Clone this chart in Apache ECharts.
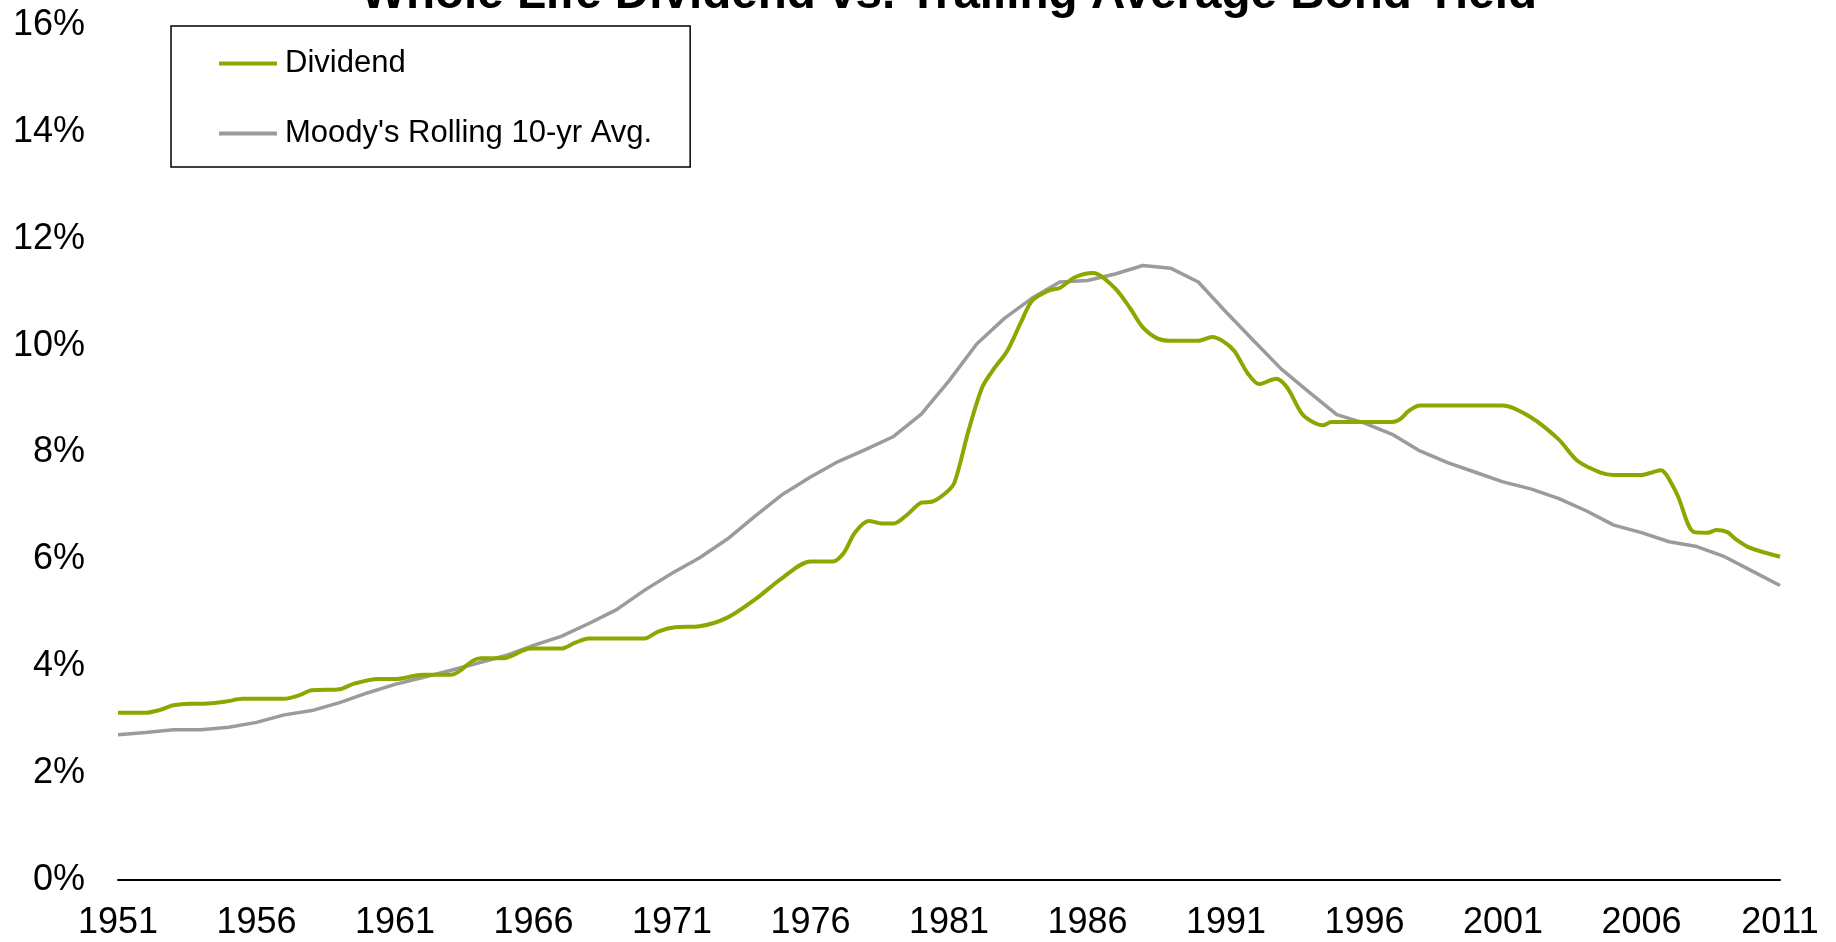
<!DOCTYPE html>
<html>
<head>
<meta charset="utf-8">
<script src="https://cdn.jsdelivr.net/npm/echarts@6/dist/echarts.min.js"></script>
<style>
html,body{margin:0;padding:0;background:#fff;}
#chart{width:1836px;height:942px;}
</style>
</head>
<body>
<div id="chart"></div>
<script>
// ---- data ----
const titleText = 'Whole Life Dividend vs. Trailing Average Bond Yield';
const seriesNames = ['Dividend', "Moody's Rolling 10-yr Avg."];

const divYears = [1951.0,1952.0,1952.5,1953.0,1953.6,1954.1,1954.9,1955.5,1957.0,1957.5,1958.0,1959.0,1959.5,1960.4,1961.0,1962.0,1963.0,1963.3,1963.8,1964.1,1964.9,1965.9,1967.0,1967.5,1968.0,1970.0,1970.5,1971.1,1972.0,1973.0,1974.0,1975.0,1976.0,1976.8,1977.2,1977.6,1978.1,1978.6,1979.0,1979.5,1980.0,1980.4,1980.9,1981.2,1981.7,1982.2,1982.6,1983.1,1983.6,1984.0,1984.6,1985.0,1985.55,1986.2,1987.0,1987.55,1988.0,1988.5,1989.0,1990.0,1990.5,1990.9,1991.3,1991.8,1992.2,1992.8,1993.2,1993.75,1994.2,1994.5,1994.8,1997.0,1997.3,1997.6,1998.0,2001.0,2002.0,2003.0,2003.7,2004.5,2005.0,2006.0,2006.4,2006.7,2006.9,2007.3,2007.9,2008.4,2008.7,2009.1,2009.4,2009.9,2011.0];
const divValues = [3.13,3.13,3.18,3.27,3.30,3.30,3.34,3.39,3.39,3.45,3.55,3.57,3.67,3.76,3.76,3.84,3.84,3.90,4.10,4.15,4.15,4.33,4.33,4.44,4.52,4.52,4.65,4.73,4.75,4.91,5.25,5.66,5.96,5.96,6.12,6.50,6.72,6.67,6.67,6.84,7.06,7.08,7.25,7.44,8.40,9.22,9.55,9.90,10.44,10.84,11.03,11.08,11.28,11.36,11.07,10.69,10.34,10.14,10.09,10.09,10.16,10.08,9.90,9.47,9.28,9.38,9.22,8.72,8.55,8.51,8.57,8.57,8.63,8.78,8.88,8.88,8.66,8.25,7.84,7.63,7.58,7.58,7.63,7.67,7.58,7.20,6.51,6.50,6.55,6.51,6.38,6.22,6.05];

const bondYears = [1951,1952,1953,1954,1955,1956,1957,1958,1959,1960,1961,1962,1963,1964,1965,1966,1967,1968,1969,1970,1971,1972,1973,1974,1975,1976,1977,1978,1979,1980,1981,1982,1983,1984,1985,1986,1987,1988,1989,1990,1991,1992,1993,1994,1995,1996,1997,1998,1999,2000,2001,2002,2003,2004,2005,2006,2007,2008,2009,2010,2011];
const bondValues = [2.72,2.76,2.81,2.81,2.86,2.95,3.09,3.17,3.32,3.50,3.66,3.79,3.92,4.06,4.20,4.39,4.56,4.80,5.06,5.42,5.74,6.03,6.38,6.81,7.22,7.54,7.83,8.06,8.30,8.72,9.34,10.03,10.51,10.89,11.19,11.22,11.34,11.50,11.45,11.19,10.63,10.09,9.56,9.13,8.71,8.55,8.34,8.03,7.81,7.63,7.45,7.32,7.14,6.91,6.64,6.50,6.33,6.24,6.05,5.78,5.51];

const xMin = 1951, xMax = 2011, xStep = 5;
const yMin = 0, yMax = 16, yStep = 2;

// ---- chart ----
const FONT = "'Liberation Sans', Arial, sans-serif";
const chart = echarts.init(document.getElementById('chart'), null, {renderer: 'canvas'});
const divData = divYears.map((y, i) => [y, divValues[i]]);
const bondData = bondYears.map((y, i) => [y, bondValues[i]]);

chart.setOption({
  animation: false,
  backgroundColor: '#ffffff',
  title: {
    text: titleText,
    left: 944,
    textAlign: 'center',
    top: -34,
    textStyle: {fontFamily: FONT, fontWeight: 'bold', fontSize: 47.6, color: '#000'}
  },
  legend: {
    orient: 'vertical',
    left: 171,
    top: 26,
    padding: [22, 38, 18, 48],
    borderColor: '#000',
    borderWidth: 1.5,
    backgroundColor: '#fff',
    itemWidth: 58,
    itemHeight: 4,
    itemGap: 39,
    icon: 'rect',
    textStyle: {fontFamily: FONT, fontSize: 31, color: '#000', lineHeight: 31, padding: [0, 0, 0, 3]},
    data: seriesNames
  },
  grid: {left: 118, right: 56, top: 25, bottom: 62, containLabel: false},
  xAxis: {
    type: 'value',
    min: xMin, max: xMax, interval: xStep,
    axisLine: {show: true, onZero: false, lineStyle: {color: '#000', width: 2}},
    axisTick: {show: false},
    splitLine: {show: false},
    axisLabel: {fontFamily: FONT, fontSize: 36, color: '#000', margin: 25, formatter: v => String(v)}
  },
  yAxis: {
    type: 'value',
    min: yMin, max: yMax, interval: yStep,
    axisLine: {show: false},
    axisTick: {show: false},
    splitLine: {show: false},
    axisLabel: {fontFamily: FONT, fontSize: 36, color: '#000', margin: 33, formatter: '{value}%'}
  },
  series: [
    {
      name: seriesNames[0],
      type: 'line',
      data: divData,
      showSymbol: false,
      smooth: 0.3,
      color: '#8FA500',
      lineStyle: {color: '#8FA500', width: 4},
      z: 3
    },
    {
      name: seriesNames[1],
      type: 'line',
      data: bondData,
      showSymbol: false,
      smooth: false,
      color: '#9B9B9B',
      lineStyle: {color: '#9B9B9B', width: 3.5},
      z: 2
    }
  ]
});
</script>
</body>
</html>
